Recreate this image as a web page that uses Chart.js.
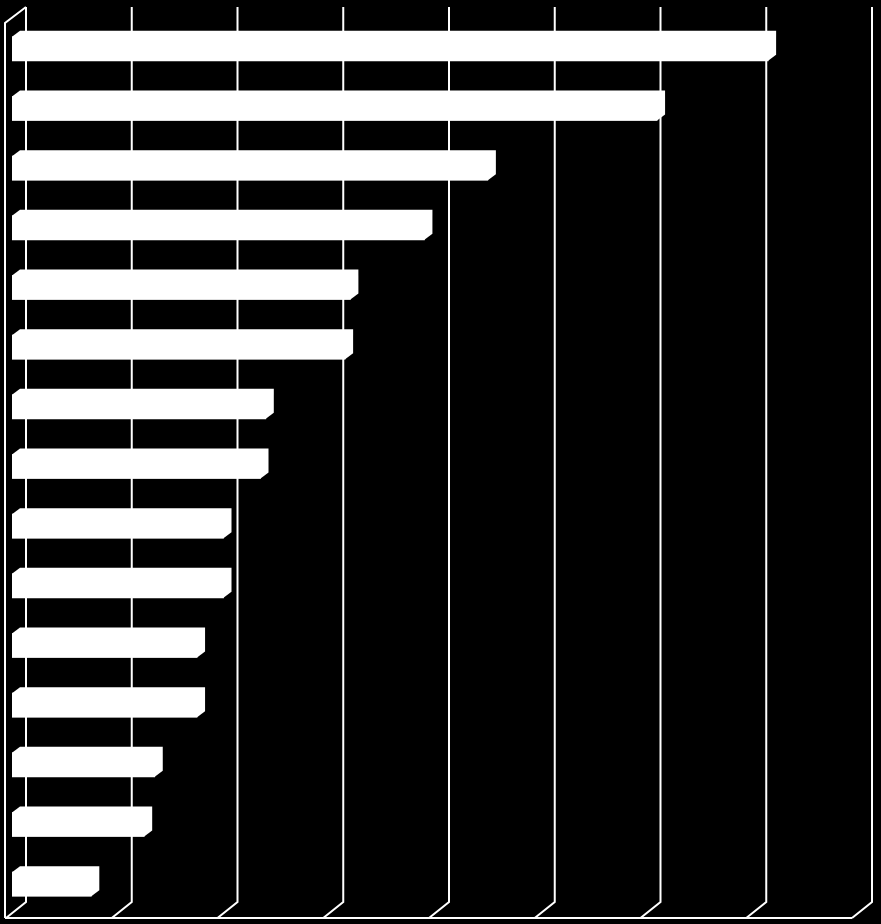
<!DOCTYPE html>
<html>
<head>
<meta charset="utf-8">
<script src="https://cdn.jsdelivr.net/npm/chart.js@4/dist/chart.umd.min.js"></script>
<style>
  html, body { margin: 0; padding: 0; background: #000; }
  #wrap { width: 881px; height: 924px; position: relative; }
</style>
</head>
<body>
<div id="wrap"><canvas id="chart"></canvas></div>
<script>
const categories = ['1', '2', '3', '4', '5', '6', '7', '8', '9', '10', '11', '12', '13', '14', '15'];
const values = [143, 122, 90, 78, 64, 63, 48, 47, 40, 40, 35, 35, 27, 25, 15];
const xTicks = [0, 20, 40, 60, 80, 100, 120, 140, 160];

// depth of the box (walls/floor) and of the bars, in px
const WALL_DX = 20, WALL_DY = 16;
const BAR_DX = 8, BAR_DY = 6;

const box3d = {
  id: 'box3d',
  beforeDatasetsDraw(chart) {
    const ctx = chart.ctx;
    const xs = chart.scales.x;
    const area = chart.chartArea;
    const backTop = area.top - 12;
    const backBottom = area.bottom - 12;
    const floorY = backBottom + WALL_DY;
    const shift = 14; // bar-front zero -> back wall zero
    ctx.save();
    ctx.strokeStyle = '#fff';
    ctx.lineWidth = 2;
    ctx.beginPath();
    xTicks.forEach(v => {
      const xb = xs.getPixelForValue(v) + shift;
      ctx.moveTo(xb, backTop);
      ctx.lineTo(xb, backBottom);
      ctx.lineTo(xb - WALL_DX, floorY);
    });
    const x0 = xs.getPixelForValue(0) + shift;
    const xEnd = xs.getPixelForValue(xTicks[xTicks.length - 1]) + shift - WALL_DX;
    // floor front edge
    ctx.moveTo(x0 - WALL_DX - 1, floorY);
    ctx.lineTo(xEnd, floorY);
    // left wall
    ctx.moveTo(x0 - WALL_DX - 1, floorY);
    ctx.lineTo(x0 - WALL_DX - 1, backTop + WALL_DY);
    ctx.lineTo(x0, backTop);
    ctx.stroke();
    ctx.restore();
  },
  afterDatasetsDraw(chart) {
    const ctx = chart.ctx;
    ctx.save();
    ctx.fillStyle = '#fff';
    chart.getDatasetMeta(0).data.forEach(bar => {
      const p = bar.getProps(['x', 'y', 'base', 'height'], true);
      const top = p.y - p.height / 2, bottom = p.y + p.height / 2;
      // whole silhouette of the box: front face + top + end
      ctx.beginPath();
      ctx.moveTo(p.base, bottom);
      ctx.lineTo(p.base, top);
      ctx.lineTo(p.base + BAR_DX, top - BAR_DY);
      ctx.lineTo(p.x + BAR_DX, top - BAR_DY);
      ctx.lineTo(p.x + BAR_DX, bottom - BAR_DY);
      ctx.lineTo(p.x, bottom);
      ctx.closePath();
      ctx.fill();
    });
    ctx.restore();
  }
};

new Chart(document.getElementById('chart').getContext('2d'), {
  type: 'bar',
  data: {
    labels: categories,
    datasets: [{ data: values, backgroundColor: '#fff', borderWidth: 0, barThickness: 24 }]
  },
  options: {
    indexAxis: 'y',
    responsive: true,
    maintainAspectRatio: false,
    animation: false,
    layout: { padding: { left: 12, right: 23, top: 19, bottom: 10 } },
    plugins: { legend: { display: false }, tooltip: { enabled: false } },
    scales: {
      x: { display: false, min: 0, max: 160 },
      y: { display: false }
    }
  },
  plugins: [box3d]
});
</script>
</body>
</html>
